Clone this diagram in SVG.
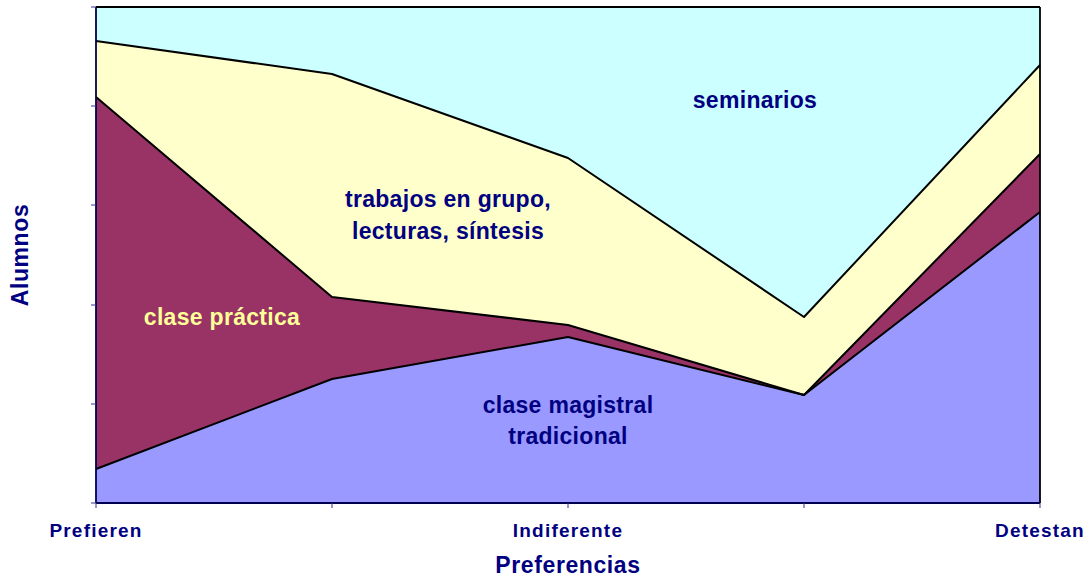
<svg xmlns="http://www.w3.org/2000/svg" width="1091" height="579" viewBox="0 0 1091 579">
<style>
.lbl{font-family:"Liberation Sans",Arial,sans-serif;font-weight:bold;font-size:23px;letter-spacing:0.3px;fill:#000080;text-anchor:middle}
.tick{font-family:"Liberation Sans",Arial,sans-serif;font-weight:bold;font-size:19px;letter-spacing:1.2px;fill:#000080;text-anchor:middle}
.ttl{font-family:"Liberation Sans",Arial,sans-serif;font-weight:bold;font-size:23px;letter-spacing:0.6px;fill:#000080;text-anchor:middle}
.edge{fill:none;stroke:#000;stroke-width:2;stroke-linejoin:round}
.tk{stroke:#333399;stroke-width:1}
</style>
<rect width="1091" height="579" fill="#fff"/>
<g id="seminarios">
<rect x="96" y="7" width="944" height="496" fill="#CCFFFF"/>
<text class="lbl" x="755" y="108">seminarios</text>
</g>
<g id="trabajos">
<polygon points="96,41 332,74 568,158 804,317 1040,65 1040,503 96,503" fill="#FFFFCC"/>
<text class="lbl" x="448" y="207">trabajos en grupo,</text>
<text class="lbl" x="448" y="239">lecturas, síntesis</text>
</g>
<g id="practica">
<polygon points="96,97 332,297 568,325 804,395 1040,154 1040,503 96,503" fill="#993366"/>
<text class="lbl" x="222" y="325" style="fill:#FFFF99">clase práctica</text>
</g>
<g id="magistral">
<polygon points="96,469 332,379 568,337 804,395 1040,212 1040,503 96,503" fill="#9999FF"/>
<text class="lbl" x="568" y="413">clase magistral</text>
<text class="lbl" x="568" y="444">tradicional</text>
</g>
<g id="connectors">
<polyline class="edge" points="96,41 332,74 568,158 804,317 1040,65"/>
<polyline class="edge" points="96,97 332,297 568,325 804,395 1040,154"/>
<polyline class="edge" points="96,469 332,379 568,337 804,395 1040,212"/>
<line x1="96" y1="7" x2="1040" y2="7" stroke="#000" stroke-width="1.8"/>
<line x1="1040" y1="7" x2="1040" y2="503" stroke="#000" stroke-width="1.8"/>
<line x1="96" y1="7" x2="96" y2="503" stroke="#000050" stroke-width="1.8"/>
<line x1="96" y1="503" x2="1040" y2="503" stroke="#000050" stroke-width="1.8"/>
<g class="tk">
<line x1="91" y1="7" x2="96" y2="7"/>
<line x1="91" y1="106" x2="96" y2="106"/>
<line x1="91" y1="205" x2="96" y2="205"/>
<line x1="91" y1="305" x2="96" y2="305"/>
<line x1="91" y1="404" x2="96" y2="404"/>
<line x1="91" y1="503" x2="96" y2="503"/>
<line x1="96" y1="503" x2="96" y2="508"/>
<line x1="332" y1="503" x2="332" y2="508"/>
<line x1="568" y1="503" x2="568" y2="508"/>
<line x1="804" y1="503" x2="804" y2="508"/>
<line x1="1040" y1="503" x2="1040" y2="508"/>
</g>
</g>
<g id="axes-labels">
<text class="tick" x="96" y="537">Prefieren</text>
<text class="tick" x="568" y="537">Indiferente</text>
<text class="tick" x="1040" y="537">Detestan</text>
<text class="ttl" x="568" y="573">Preferencias</text>
<text class="ttl" transform="translate(28,255) rotate(-90)">Alumnos</text>
</g>
</svg>
